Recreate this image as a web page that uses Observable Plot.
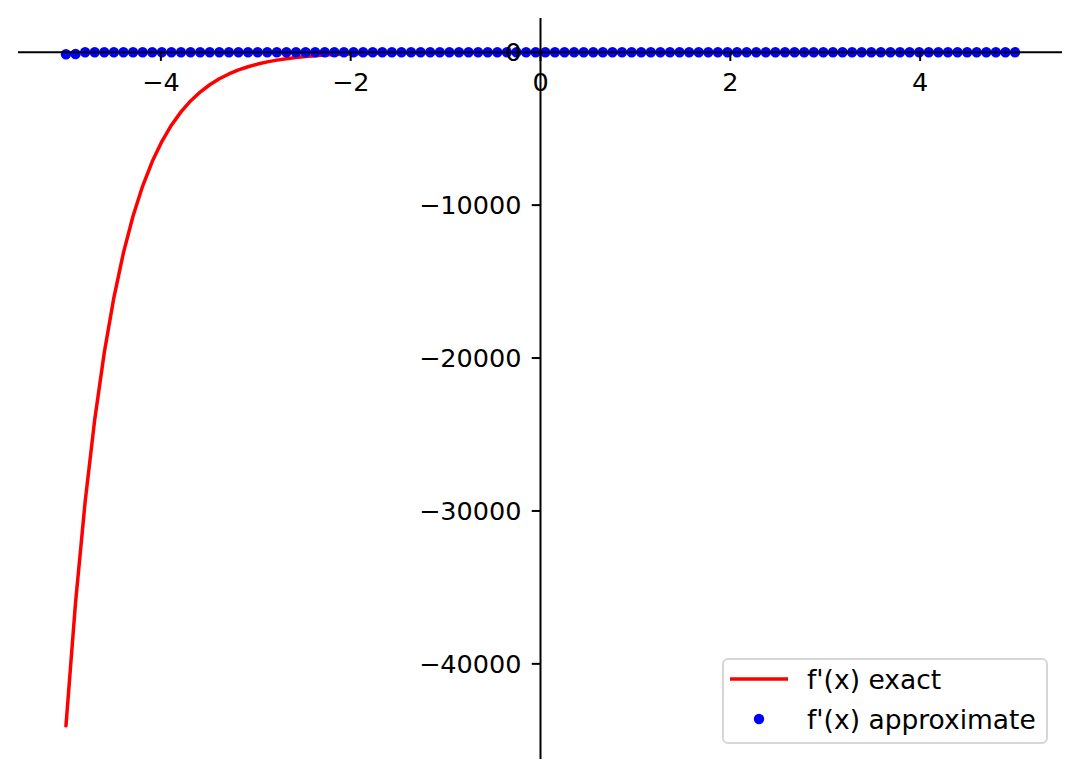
<!DOCTYPE html>
<html><head><meta charset="utf-8">
<script src="https://cdn.jsdelivr.net/npm/d3@7"></script>
<script src="https://cdn.jsdelivr.net/npm/@observablehq/plot@0.6"></script>
<style>
html,body{margin:0;padding:0;background:#fff;}
#wrap{position:relative;width:1080px;height:777px;font-family:"DejaVu Sans",sans-serif;}
#legend{position:absolute;left:722px;top:658px;width:322px;height:82px;border:2px solid #d6d6d6;border-radius:6px;background:rgba(255,255,255,0.8);}
#legend svg{display:block;}
</style></head>
<body><div id="wrap"></div>
<script>
const xs = [
  -5.000, -4.899, -4.798, -4.697, -4.596, -4.495, -4.394, -4.293, -4.192, -4.091,
  -3.990, -3.889, -3.788, -3.687, -3.586, -3.485, -3.384, -3.283, -3.182, -3.081,
  -2.980, -2.879, -2.778, -2.677, -2.576, -2.475, -2.374, -2.273, -2.172, -2.071,
  -1.970, -1.869, -1.768, -1.667, -1.566, -1.465, -1.364, -1.263, -1.162, -1.061,
  -0.960, -0.859, -0.758, -0.657, -0.556, -0.455, -0.354, -0.253, -0.152, -0.051,
  0.051, 0.152, 0.253, 0.354, 0.455, 0.556, 0.657, 0.758, 0.859, 0.960,
  1.061, 1.162, 1.263, 1.364, 1.465, 1.566, 1.667, 1.768, 1.869, 1.970,
  2.071, 2.172, 2.273, 2.374, 2.475, 2.576, 2.677, 2.778, 2.879, 2.980,
  3.081, 3.182, 3.283, 3.384, 3.485, 3.586, 3.687, 3.788, 3.889, 3.990,
  4.091, 4.192, 4.293, 4.394, 4.495, 4.596, 4.697, 4.798, 4.899, 5.000
];
const exact = [
  -44052.9, -35994.7, -29410.5, -24030.7, -19634.9, -16043.3, -13108.6, -10710.7, -8751.5, -7150.6,
  -5842.6, -4773.9, -3900.6, -3187.1, -2604.1, -2127.8, -1738.6, -1420.6, -1160.7, -948.4,
  -774.9, -633.2, -517.4, -422.7, -345.4, -282.2, -230.6, -188.4, -153.9, -125.8,
  -102.8, -84.0, -68.6, -56.1, -45.8, -37.4, -30.6, -25.0, -20.4, -16.7,
  -13.6, -11.1, -9.1, -7.4, -6.1, -5.0, -4.1, -3.3, -2.7, -2.2,
  -1.8, -1.48, -1.21, -0.99, -0.81, -0.66, -0.54, -0.44, -0.36, -0.29,
  -0.24, -0.20, -0.16, -0.13, -0.11, -0.09, -0.07, -0.06, -0.05, -0.04,
  -0.03, -0.03, -0.02, -0.02, -0.01, -0.01, -0.01, -0.01, -0.01, -0.01,
  0, 0, 0, 0, 0, 0, 0, 0, 0, 0,
  0, 0, 0, 0, 0, 0, 0, 0, 0, 0
];
const approx = [
  -130, -120, 0, 0, 0, 0, 0, 0, 0, 0,
  0, 0, 0, 0, 0, 0, 0, 0, 0, 0,
  0, 0, 0, 0, 0, 0, 0, 0, 0, 0,
  0, 0, 0, 0, 0, 0, 0, 0, 0, 0,
  0, 0, 0, 0, 0, 0, 0, 0, 0, 0,
  0, 0, 0, 0, 0, 0, 0, 0, 0, 0,
  0, 0, 0, 0, 0, 0, 0, 0, 0, 0,
  0, 0, 0, 0, 0, 0, 0, 0, 0, 0,
  0, 0, 0, 0, 0, 0, 0, 0, 0, 0,
  0, 0, 0, 0, 0, 0, 0, 0, 0, 0
];
const xTicks = [-4, -2, 0, 2, 4];
const yTicks = [-40000, -30000, -20000, -10000, 0];
const seriesLabels = ["f'(x) exact", "f'(x) approximate"];
const seriesColors = ["red", "blue"];

const data = xs.map((x, i) => ({x, exact: exact[i], approx: approx[i]}));
const fmt = d => d < 0 ? "\u2212" + Math.abs(d) : String(d);
const tickDown = {draw(ctx) { ctx.moveTo(0, 0); ctx.lineTo(0, 8.75); }};
const tickLeft = {draw(ctx) { ctx.moveTo(0, 0); ctx.lineTo(-8.75, 0); }};

const chart = Plot.plot({
  width: 1080, height: 777,
  marginLeft: 18, marginRight: 18, marginTop: 18, marginBottom: 18,
  style: {fontFamily: "DejaVu Sans, sans-serif", fontSize: "25.5px", background: "#fff", color: "black"},
  x: {domain: [-5.5, 5.5], axis: null},
  y: {domain: [-46255, 2205], axis: null},
  marks: [
    Plot.line(data, {x: "x", y: "exact", stroke: seriesColors[0], strokeWidth: 3.5}),
    Plot.dot(data, {x: "x", y: "approx", fill: seriesColors[1], r: 5.2}),
    Plot.text(xTicks, {x: d => d, y: () => 0, text: fmt, dy: 31, fontSize: 25.5, fill: "black"}),
    Plot.text(yTicks, {x: () => 0, y: d => d, text: fmt, dx: -19, dy: 1, textAnchor: "end", fontSize: 25.5, fill: "black"}),
    Plot.ruleY([0], {stroke: "black", strokeWidth: 2}),
    Plot.ruleX([0], {stroke: "black", strokeWidth: 2}),
    Plot.dot(xTicks, {x: d => d, y: () => 0, symbol: tickDown, stroke: "black", fill: "none", strokeWidth: 2}),
    Plot.dot(yTicks, {x: () => 0, y: d => d, symbol: tickLeft, stroke: "black", fill: "none", strokeWidth: 2})
  ]
});
const wrap = document.getElementById("wrap");
wrap.appendChild(chart);

const legend = document.createElement("div");
legend.id = "legend";
legend.innerHTML = `<svg width="322" height="82" xmlns="http://www.w3.org/2000/svg" font-family="DejaVu Sans, sans-serif" font-size="26.5">
  <line x1="6" x2="64" y1="19" y2="19" stroke="${seriesColors[0]}" stroke-width="3.5"/>
  <text x="83" y="28.5" fill="black">${seriesLabels[0]}</text>
  <circle cx="35" cy="59" r="5.2" fill="${seriesColors[1]}"/>
  <text x="83" y="68.5" fill="black">${seriesLabels[1]}</text>
</svg>`;
wrap.appendChild(legend);
</script>
</body></html>
